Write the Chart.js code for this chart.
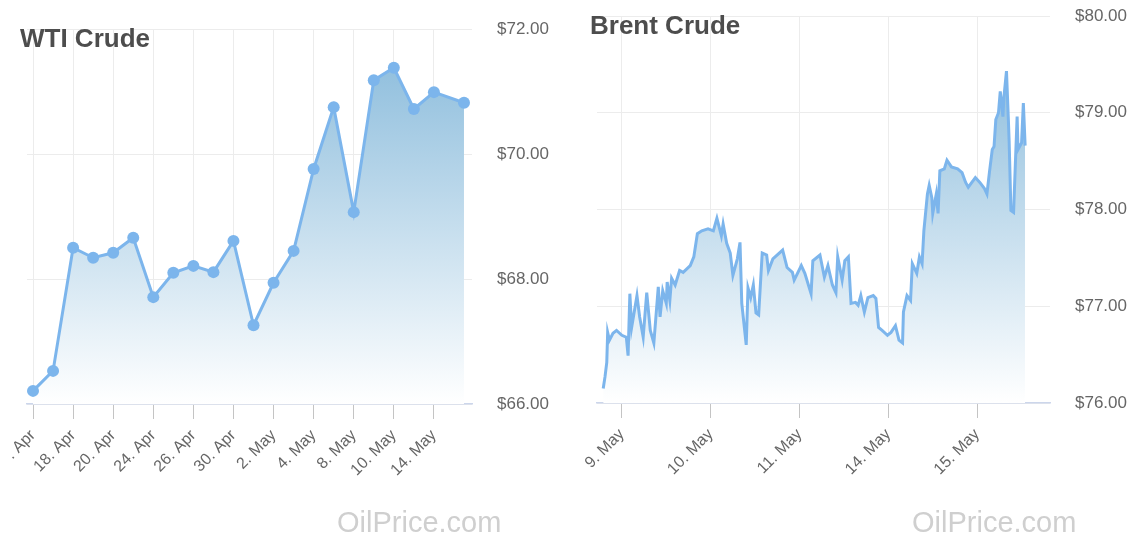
<!DOCTYPE html>
<html>
<head>
<meta charset="utf-8">
<script src="https://cdn.jsdelivr.net/npm/chart.js@4.4.1/dist/chart.umd.min.js"></script>
<style>
  body { margin: 0; background: #fff; width: 1135px; height: 537px; overflow: hidden; position: relative; font-family: "Liberation Sans", Arial, sans-serif; }
  .panel { position: absolute; top: 0; height: 537px; overflow: hidden; }
  .panel canvas { position: absolute; top: 0; }
  .title { position: absolute; font-weight: bold; font-size: 26px; line-height: 1; color: #4d4d4d; }
  .mark { position: absolute; font-size: 29px; line-height: 1; color: #cfcfcf; }
</style>
</head>
<body>
<div class="panel" style="left:12px;width:555px;">
  <canvas id="wtiChart" width="627" height="537" style="left:-72px;"></canvas>
</div>
<div class="panel" style="left:567px;width:568px;">
  <canvas id="brentChart" width="568" height="537" style="left:0;"></canvas>
</div>
<div class="title" style="left:20px;top:25px;">WTI Crude</div>
<div class="title" style="left:590px;top:12px;">Brent Crude</div>
<div class="mark" style="left:337px;top:508px;">OilPrice.com</div>
<div class="mark" style="left:912px;top:508px;">OilPrice.com</div>

<script>
// WTI - cierre diario (indice = dia habil)
const wtiDates = ["16. Apr", "17. Apr", "18. Apr", "19. Apr", "20. Apr", "23. Apr", "24. Apr", "25. Apr",
  "26. Apr", "27. Apr", "30. Apr", "1. May", "2. May", "3. May", "4. May", "7. May", "8. May",
  "9. May", "10. May", "11. May", "14. May", "15. May"];
const wtiDay = [0, 1, 2, 3, 4, 5, 6, 7, 8, 9, 10, 11, 12, 13, 14, 15, 16, 17, 18, 19, 20, 21.5];
const wtiPrices = [66.21, 66.53, 68.50, 68.34, 68.42, 68.66, 67.71, 68.10, 68.21, 68.11, 68.61,
  67.26, 67.94, 68.45, 69.76, 70.75, 69.07, 71.18, 71.38, 70.72, 70.99, 70.82];
const wtiTickDays = [0, 2, 4, 6, 8, 10, 12, 14, 16, 18, 20];
const wtiYTicks = [66, 68, 70, 72];

// Brent - intradia (dias habiles desde 9 May)
const brentDays = ["9. May", "10. May", "11. May", "14. May", "15. May"];
const brentTickDays = [0, 1, 2, 3, 4];
const brentYTicks = [76, 77, 78, 79, 80];
const brentTimes = [-0.21, -0.19, -0.17, -0.16, -0.14, -0.10, -0.06, 0.00, 0.05, 0.07,
  0.09, 0.11, 0.17, 0.20, 0.24, 0.28, 0.32, 0.36, 0.41, 0.43,
  0.46, 0.50, 0.51, 0.54, 0.56, 0.60, 0.65, 0.69, 0.77, 0.81,
  0.85, 0.90, 0.97, 1.03, 1.07, 1.12, 1.14, 1.18, 1.22, 1.25,
  1.30, 1.33, 1.35, 1.40, 1.42, 1.45, 1.48, 1.51, 1.54, 1.58,
  1.63, 1.65, 1.70, 1.81, 1.86, 1.92, 1.94, 2.02, 2.06, 2.13,
  2.15, 2.23, 2.28, 2.32, 2.37, 2.41, 2.43, 2.48, 2.51, 2.55,
  2.58, 2.63, 2.66, 2.69, 2.73, 2.77, 2.83, 2.86, 2.89, 2.93,
  2.99, 3.03, 3.08, 3.12, 3.16, 3.17, 3.21, 3.25, 3.27, 3.32,
  3.35, 3.38, 3.40, 3.44, 3.46, 3.49, 3.50, 3.54, 3.56, 3.58,
  3.63, 3.66, 3.71, 3.78, 3.83, 3.87, 3.90, 3.94, 3.98, 4.03,
  4.08, 4.11, 4.14, 4.17, 4.19, 4.21, 4.24, 4.26, 4.29, 4.30,
  4.33, 4.35, 4.36, 4.38, 4.41, 4.43, 4.45, 4.46, 4.50, 4.52,
  4.54];
const brentPrices = [76.15, 76.27, 76.42, 76.73, 76.65, 76.72, 76.75, 76.70, 76.68, 76.49,
  77.13, 76.78, 77.11, 76.89, 76.68, 77.14, 76.75, 76.62, 77.20, 76.89,
  77.16, 77.03, 77.25, 77.06, 77.29, 77.22, 77.37, 77.35, 77.42, 77.51,
  77.75, 77.78, 77.80, 77.78, 77.91, 77.73, 77.85, 77.65, 77.55, 77.32,
  77.49, 77.66, 77.03, 76.60, 77.19, 77.09, 77.22, 76.93, 76.91, 77.55,
  77.53, 77.37, 77.49, 77.58, 77.40, 77.35, 77.27, 77.42, 77.34, 77.13,
  77.47, 77.53, 77.30, 77.42, 77.22, 77.14, 77.51, 77.27, 77.47, 77.51,
  77.03, 77.04, 77.01, 77.11, 76.94, 77.09, 77.11, 77.08, 76.78, 76.75,
  76.70, 76.73, 76.80, 76.65, 76.62, 76.94, 77.11, 77.06, 77.44, 77.34,
  77.51, 77.44, 77.78, 78.16, 78.25, 78.12, 77.96, 78.16, 77.96, 78.40,
  78.42, 78.51, 78.44, 78.42, 78.38, 78.28, 78.23, 78.28, 78.33, 78.28,
  78.22, 78.16, 78.40, 78.62, 78.65, 78.93, 79.00, 79.22, 78.96, 79.15,
  79.43, 78.96, 78.71, 77.99, 77.97, 78.47, 78.96, 78.62, 78.69, 79.10,
  78.66];

const LINE_COLOR = "#7cb5ec";
const FONT = "'Liberation Sans', Arial, sans-serif";

// Degradado del area: desde el maximo de la serie hasta el eje
function areaGradient(prices) {
  return (context) => {
    const chart = context.chart;
    const area = chart.chartArea;
    if (!area) return null;
    const top = chart.scales.y.getPixelForValue(Math.max(...prices));
    const grad = chart.ctx.createLinearGradient(0, top, 0, area.bottom);
    grad.addColorStop(0, "rgb(146, 192, 222)");
    grad.addColorStop(1, "rgba(255, 255, 255, 1)");
    return grad;
  };
}

function buildChart(canvasId, cfg) {
  const points = cfg.xs.map((x, i) => ({ x: x, y: cfg.ys[i] }));
  return new Chart(document.getElementById(canvasId), {
    type: "line",
    data: {
      datasets: [
        {
          data: points,
          borderColor: LINE_COLOR,
          borderWidth: cfg.lineWidth,
          backgroundColor: areaGradient(cfg.ys),
          fill: "start",
          tension: 0,
          pointRadius: cfg.pointRadius,
          pointBackgroundColor: LINE_COLOR,
          pointBorderWidth: 0,
        },
      ],
    },
    options: {
      responsive: false,
      animation: false,
      devicePixelRatio: 1,
      layout: { padding: cfg.padding },
      plugins: { legend: { display: false }, tooltip: { enabled: false } },
      scales: {
        x: {
          type: "linear",
          min: cfg.xMin,
          max: cfg.xMax,
          afterBuildTicks: (scale) => {
            scale.ticks = cfg.xTicks.map((v) => ({ value: v }));
          },
          afterFit: (scale) => {
            scale.height = 80;
          },
          ticks: {
            autoSkip: false,
            minRotation: 45,
            maxRotation: 45,
            padding: 7,
            color: "#666666",
            font: { family: FONT, size: 16 },
            callback: (value) => cfg.xLabels[cfg.xTicks.indexOf(value)],
          },
          grid: {
            color: "#ececec",
            tickColor: "#c4c4c4",
            tickLength: 15,
            drawTicks: true,
          },
          border: { color: "#ccd6eb", width: 1.5 },
        },
        y: {
          position: "right",
          min: cfg.yTicks[0],
          max: cfg.yTicks[cfg.yTicks.length - 1],
          afterBuildTicks: (scale) => {
            scale.ticks = cfg.yTicks.map((v) => ({ value: v }));
          },
          afterFit: (scale) => {
            scale.width = cfg.yWidth;
          },
          ticks: {
            padding: 0,
            color: "#666666",
            font: { family: FONT, size: 17 },
            callback: (value) => "$" + value.toFixed(2),
          },
          // marcas invisibles para separar las etiquetas del area
          grid: { color: "#ececec", drawTicks: true, tickLength: 25, tickColor: "rgba(0,0,0,0)" },
          border: { display: false },
        },
      },
    },
  });
}

buildChart("wtiChart", {
  xs: wtiDay,
  ys: wtiPrices,
  xTicks: wtiTickDays,
  xLabels: wtiTickDays.map((d) => wtiDates[d]),
  yTicks: wtiYTicks,
  xMin: -0.3,
  xMax: 21.9,
  lineWidth: 3,
  pointRadius: 6,
  padding: { left: 87, top: 29, right: 0, bottom: 53 },
  yWidth: 95,
});

buildChart("brentChart", {
  xs: brentTimes,
  ys: brentPrices,
  xTicks: brentTickDays,
  xLabels: brentDays,
  yTicks: brentYTicks,
  xMin: -0.28,
  xMax: 4.82,
  lineWidth: 3,
  pointRadius: 0,
  padding: { left: 30, top: 16, right: 0, bottom: 54 },
  yWidth: 85,
});
</script>
</body>
</html>
